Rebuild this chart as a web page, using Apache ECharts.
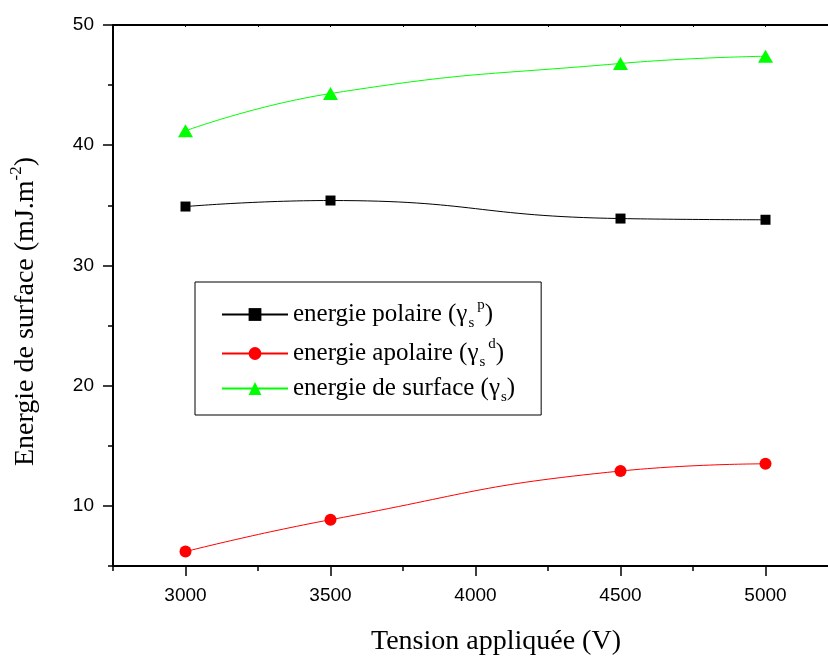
<!DOCTYPE html>
<html><head><meta charset="utf-8">
<script src="https://cdn.jsdelivr.net/npm/echarts@6/dist/echarts.min.js"></script>
<style>html,body{margin:0;padding:0;background:#fff}#c{width:828px;height:658px}</style>
</head><body><div id="c"></div>
<script>
const tension = [3000, 3500, 4500, 5000];
const polaire = [34.9, 35.4, 33.9, 33.8];
const apolaire = [6.2, 8.85, 12.9, 13.5];
const surface = [41.2, 44.3, 46.8, 47.4];
const xTickLabels = [3000, 3500, 4000, 4500, 5000];
const yTickLabels = [10, 20, 30, 40, 50];
const legendNames = {
  p: '{t|energie polaire (γ}{s|s}{p|p}{t|)}',
  d: '{t|energie apolaire (γ}{s|s}{p|d}{t|)}',
  s: '{t|energie de surface (γ}{s|s}{t|)}'
};

const serif = 'Liberation Serif, Times New Roman, serif';
const sans = 'Liberation Sans, Arial, sans-serif';
const chart = echarts.init(document.getElementById('c'));
const pair = (xs, ys) => xs.map((x, i) => [x, ys[i]]);

const xBase = { type: 'value', min: 2750, max: 5250, interval: 250, splitLine: { show: false } };
const yBase = { type: 'value', min: 5, max: 50, interval: 5, splitLine: { show: false } };

chart.setOption({
  animation: false,
  backgroundColor: '#fff',
  grid: { left: 113, top: 25, width: 725, height: 541, outerBoundsMode: 'none', containLabel: false },
  xAxis: [
    Object.assign({}, xBase, {
      position: 'bottom',
      axisLine: { lineStyle: { color: '#000', width: 2 } },
      axisTick: { length: 5, lineStyle: { color: '#000', width: 1.5 } },
      axisLabel: { margin: 20, fontFamily: sans, fontSize: 19, color: '#000',
        formatter: v => xTickLabels.includes(v) ? String(v) : '' },
      name: 'Tension appliquée (V)', nameLocation: 'middle', nameGap: 62,
      nameTextStyle: { fontFamily: serif, fontSize: 28, color: '#000', padding: [0, 0, 0, 41] }
    }),
    Object.assign({}, xBase, {
      position: 'bottom',
      axisLine: { show: false },
      axisTick: { customValues: xTickLabels, length: 10, lineStyle: { color: '#000', width: 1.5 } },
      axisLabel: { show: false }
    }),
    Object.assign({}, xBase, {
      position: 'top',
      axisLine: { lineStyle: { color: '#000', width: 2 } },
      axisTick: { inside: true, length: 2, lineStyle: { color: '#000', width: 1 } },
      axisLabel: { show: false }
    })
  ],
  yAxis: [
    Object.assign({}, yBase, {
      position: 'left',
      axisLine: { lineStyle: { color: '#000', width: 2 } },
      axisTick: { length: 5, lineStyle: { color: '#000', width: 1.5 } },
      axisLabel: { margin: 19, fontFamily: sans, fontSize: 19, color: '#000',
        formatter: v => yTickLabels.includes(v) ? String(v) : '' },
      name: '{t|Energie de surface (mJ.m}{p|-2}{t|)}', nameLocation: 'middle', nameGap: 70,
      nameTextStyle: { color: '#000', padding: [0, 32, 0, 0],
        rich: {
          t: { fontFamily: serif, fontSize: 28, color: '#000' },
          p: { fontFamily: serif, fontSize: 17, color: '#000', padding: [0, 0, 18, 0] }
        } }
    }),
    Object.assign({}, yBase, {
      position: 'left',
      axisLine: { show: false },
      axisTick: { customValues: yTickLabels, length: 10, lineStyle: { color: '#000', width: 1.5 } },
      axisLabel: { show: false }
    })
  ],
  legend: {
    orient: 'vertical', left: 195, top: 282,
    padding: [16, 26, 10, 26], itemGap: 6,
    itemWidth: 66, itemHeight: 16,
    borderColor: '#000', borderWidth: 1, backgroundColor: '#fff',
    data: ['p', 'd', 's'],
    formatter: n => legendNames[n],
    textStyle: {
      rich: {
        t: { fontFamily: serif, fontSize: 25, color: '#000' },
        s: { fontFamily: serif, fontSize: 15, color: '#000', padding: [18, 0, 0, 1] },
        p: { fontFamily: serif, fontSize: 15, color: '#000', padding: [0, 0, 18, 3] }
      }
    }
  },
  series: [
    { name: 'p', type: 'line', smooth: true, data: pair(tension, polaire),
      symbol: 'rect', symbolSize: 10, itemStyle: { color: '#000' },
      lineStyle: { color: '#000', width: 1 } },
    { name: 'd', type: 'line', smooth: true, data: pair(tension, apolaire),
      symbol: 'circle', symbolSize: 12, itemStyle: { color: '#ff0000' },
      lineStyle: { color: '#ff0000', width: 1 } },
    { name: 's', type: 'line', smooth: true, data: pair(tension, surface),
      symbol: 'triangle', symbolSize: [15, 13], itemStyle: { color: '#00ff00' },
      lineStyle: { color: '#00ff00', width: 1 } }
  ]
});
</script></body></html>
